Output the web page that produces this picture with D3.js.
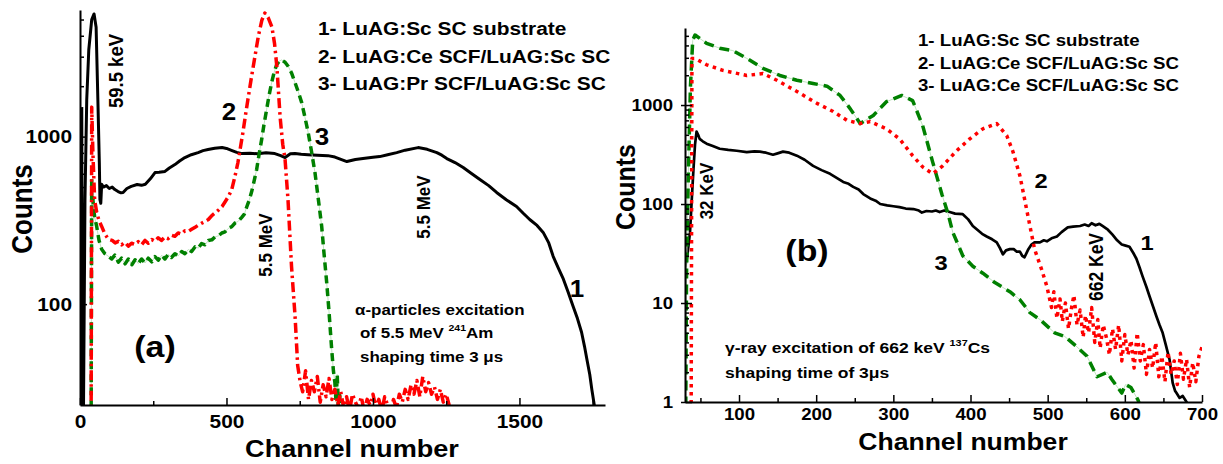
<!DOCTYPE html>
<html>
<head>
<meta charset="utf-8">
<script src="https://cdn.jsdelivr.net/npm/d3@7"></script>
<style>
  body { margin: 0; background: #fff; }
  svg text { font-family: "Liberation Sans", Arial, sans-serif; font-weight: bold; fill: #000; }
</style>
</head>
<body>
<svg id="chart" width="1223" height="464"></svg>
<script>
// ---- panel (a): alpha excitation, [channel, counts]
const alphaSubstrate = [[6,1500],[8,20],[12,25],[17,420],[23,1660],[30,3300],[40,5000],[48,5400],[55,4500],[61,1660],[66,700],[68,420],[71,400],[74,520],[80,500],[90,510],[100,490],[110,500],[119,483],[130,470],[140,462],[147,464],[160,490],[175,505],[195,518],[210,512],[223,520],[240,560],[256,610],[270,612],[290,620],[305,650],[324,681],[340,715],[358,750],[380,780],[403,803],[420,825],[437,837],[460,852],[485,860],[500,850],[519,826],[535,805],[553,792],[580,795],[607,790],[635,800],[665,792],[685,770],[700,750],[718,790],[734,792],[755,785],[778,780],[810,775],[846,770],[870,755],[911,710],[940,730],[966,740],[1000,752],[1023,760],[1050,780],[1081,803],[1110,830],[1154,860],[1185,840],[1218,803],[1235,775],[1252,740],[1280,700],[1308,654],[1335,605],[1365,555],[1395,510],[1422,464],[1455,420],[1490,383],[1512,350],[1535,320],[1560,295],[1581,268],[1600,232],[1615,193],[1632,165],[1650,141],[1666,118],[1683,97],[1698,82],[1712,68],[1722,56],[1730,47],[1740,38],[1747,31],[1757,24]];
const alphaCe = [[38,20],[40,1500],[44,800],[50,420],[57,353],[65,315],[74,291],[85,262],[97,244],[110,240],[120,232],[131,237],[142,226],[153,234],[165,222],[176,231],[188,227],[199,236],[210,226],[222,240],[233,231],[245,243],[256,237],[267,249],[278,240],[290,252],[301,246],[312,258],[324,254],[335,266],[347,262],[358,274],[370,272],[381,280],[393,288],[404,296],[415,304],[427,312],[438,320],[450,338],[461,350],[473,365],[485,383],[496,410],[507,440],[518,483],[529,580],[539,700],[548,870],[556,1056],[565,1350],[573,1660],[585,2250],[597,3000],[609,4000],[621,4970],[631,5470],[643,5100],[655,4520],[664,3600],[672,2610],[683,1315],[692,900],[700,730],[710,420],[722,168],[734,85],[743,43],[752,34],[760,30],[770,40],[780,27],[790,35],[800,30],[810,37],[820,26],[830,33],[840,28],[850,36],[860,27],[870,31],[880,25],[890,30],[900,24],[910,28],[920,23],[930,29],[940,26],[950,24],[960,28],[970,23],[980,27],[990,25],[1000,29],[1010,24],[1020,27],[1030,23],[1040,28],[1050,25],[1060,22],[1070,27],[1080,24],[1090,29],[1100,26],[1110,31],[1120,27],[1130,33],[1140,29],[1150,35],[1160,28],[1170,37],[1180,30],[1190,34],[1200,29],[1210,32],[1220,27],[1230,31],[1240,26],[1250,29],[1260,25],[1270,22]];
const alphaPr = [[38,20],[40,560],[44,420],[50,330],[57,291],[65,240],[74,213],[85,200],[97,193],[108,186],[119,196],[131,178],[142,188],[154,174],[165,186],[177,172],[188,184],[199,175],[210,186],[222,176],[233,188],[245,179],[256,192],[267,183],[279,196],[290,186],[301,198],[312,190],[324,200],[335,194],[347,206],[358,200],[370,212],[381,206],[393,220],[404,216],[415,230],[427,226],[438,240],[450,242],[461,252],[473,256],[484,266],[495,270],[507,284],[518,290],[530,306],[540,312],[552,330],[561,345],[569,380],[578,420],[586,470],[594,540],[603,636],[611,780],[620,960],[628,1180],[637,1450],[645,1750],[654,2095],[662,2400],[671,2680],[680,2820],[688,2870],[700,2780],[711,2620],[722,2400],[734,2100],[745,1850],[757,1590],[768,1300],[779,1056],[790,820],[802,610],[813,430],[825,291],[833,200],[842,135],[850,90],[859,54],[865,40],[870,34],[874,26],[878,38],[882,24],[886,30],[890,20]];

// ---- panel (b): gamma excitation, [channel, counts]
const gammaSubstrate = [[30,23],[33,30],[36.5,52],[39,120],[41,227],[43,400],[45,540],[47,500],[49,455],[53,430],[58,407],[66,385],[75,362],[86,352],[97,345],[110,335],[120,340],[127,338],[135,330],[144,315],[150,325],[157,338],[165,330],[175,308],[185,280],[196,243],[207,220],[218,202],[226,185],[235,167],[242,160],[248,149],[255,140],[261,126],[270,114],[277,108],[283,100],[292,97],[300,95],[308,93],[316,90],[326,89],[333,86],[337,82],[343,85],[350,84],[355,86],[360,83],[366,86],[373,83],[380,80],[390,79],[397,70],[403,60],[410,54],[415,50],[421,47],[428,44],[434,41],[438,36],[442,31],[446,34],[451,35],[456,35],[460,33],[464,33],[467,30],[470,29],[475,35],[479,39],[483,41],[490,41],[495,43],[499,42],[505,45],[512,47],[518,52],[526,58],[533,59],[542,60],[548,62],[553,60],[557,64],[562,61],[567,63],[571,60],[578,55],[584,49],[590,43],[596,39],[601,38],[606,37],[611,32],[615,28],[619,23],[623,18.6],[628,14.5],[632,11.7],[637,9],[641,7.3],[645,6],[649,5],[653,3.8],[658,2.67],[662,1.56],[665,1.3],[667,1.23],[671,1.1],[675,1.15],[680,1.0],[682,0.9]];
const gammaCe = [[38,0.8],[39,2960],[43,2960],[58,2550],[79,2240],[110,1990],[131,2080],[149,1780],[175,1370],[201,1040],[222,860],[240,700],[257,650],[270,680],[291,575],[308,455],[325,308],[338,237],[351,202],[364,243],[382,345],[399,455],[416,575],[434,650],[447,490],[455,338],[464,193],[470,113],[477,60],[483,35],[492,22],[499,14.7],[505,9],[508,13],[512,7],[516,11],[519,6.5],[523,10],[527,5.5],[531,9],[534,12],[538,6],[542,8.5],[546,4.5],[549,7.5],[553,5],[557,9],[561,4],[565,6.8],[568,3.5],[572,6],[576,4.5],[580,3],[584,5.5],[588,3.4],[592,6],[596,2.6],[600,4.8],[604,3],[608,4.2],[612,2.2],[616,5],[620,2.6],[624,3.8],[628,1.9],[632,3.4],[636,2.2],[640,4],[644,1.8],[648,2.9],[652,1.6],[656,3.2],[660,1.9],[664,2.6],[668,1.5],[672,3.1],[676,1.7],[680,2.7],[684,1.4],[688,2.5],[692,1.6],[696,2.9],[700,3.6]];
const gammaCe2 = [[31,0.9],[32,20],[34,150],[37,1500],[40,4500],[43,5100],[58,4200],[75,3750],[92,3550],[110,2960],[131,2350],[153,1990],[175,1780],[196,1650],[214,1550],[231,1250],[244,920],[257,650],[274,785],[291,1080],[311,1250],[325,1110],[338,620],[351,265],[363,125],[371,79],[377,52],[390,30],[403,23.5],[416,20],[431,16.2],[451,13],[464,10.8],[477,8],[490,6.8],[509,5],[522,4.6],[538,3.6],[551,2.9],[564,1.8],[577,2.0],[583,1.7],[596,1.23],[601,1.5],[608,1.4],[617,1.05],[620,0.9]];

// ---- ticks and labels
const alphaXTicks = [0, 500, 1000, 1500];
const alphaXMinor = [250, 750, 1250, 1750];
const alphaYTicks = [100, 1000];
const alphaYMinor = [30,40,50,60,70,80,90,200,300,400,500,600,700,800,900,2000,3000,4000,5000];
const gammaXTicks = [100, 200, 300, 400, 500, 600, 700];
const gammaXMinor = [50, 150, 250, 350, 450, 550, 650];
const gammaYTicks = [1, 10, 100, 1000];
const gammaYMinor = [2,3,4,5,6,7,8,9,20,30,40,50,60,70,80,90,200,300,400,500,600,700,800,900,2000,3000,4000,5000];
const alphaLegend = ["1- LuAG:Sc SC substrate", "2- LuAG:Ce SCF/LuAG:Sc SC", "3- LuAG:Pr SCF/LuAG:Sc SC"];
const gammaLegend = ["1- LuAG:Sc SC substrate", "2- LuAG:Ce SCF/LuAG:Sc SC", "3- LuAG:Ce SCF/LuAG:Sc SC"];

const svg = d3.select("#chart");
const SX = 1.13; // the source figure is stretched sideways a little

// text helper: parts is a string or a list of strings / {sup: "..."}
const addText = (g, x, y, parts, size, opts = {}) => {
    const rot = opts.rotate || 0;
    const t = g.append('text')
        .attr('transform', rot
            ? `translate(${x},${y}) rotate(${rot}) scale(1,${SX})`
            : `translate(${x},${y}) scale(${SX},1)`)
        .attr('font-size', size)
        .attr('text-anchor', opts.anchor || 'start');
    if (typeof parts === 'string') { t.text(parts); return t; }
    let raised = false;
    parts.forEach(p => {
        if (typeof p === 'string') {
            t.append('tspan').attr('dy', raised ? size * 0.45 : 0).text(p);
            raised = false;
        } else {
            t.append('tspan').attr('dy', -size * 0.45).attr('font-size', size * 0.62).text(p.sup);
            raised = true;
        }
    });
    return t;
};

const drawPanel = (cfg) => {
    const { x, y, id } = cfg;
    const g = svg.append('g');
    const [x0, x1] = x.range();
    const [y0, y1] = y.range();

    g.append('clipPath').attr('id', id)
        .append('rect').attr('x', x0).attr('y', y1 - 2).attr('width', x1 - x0).attr('height', y0 - y1 + 2);

    const line = d3.line().x(d => x(d[0])).y(d => y(d[1]));
    const plot = g.append('g').attr('clip-path', `url(#${id})`);
    cfg.series.forEach(s => {
        if (s.under) {
            plot.append('path').datum(s.data).attr('d', line)
                .attr('fill', 'none').attr('stroke', s.under).attr('stroke-width', 0.9);
        }
        plot.append('path').datum(s.data).attr('d', line)
            .attr('fill', 'none')
            .attr('stroke', s.color)
            .attr('stroke-width', s.width)
            .attr('stroke-dasharray', s.dash || null)
            .attr('stroke-linejoin', 'round');
    });

    // x axis, ticks pointing inside
    const xAxis = g.append('g').attr('transform', `translate(0,${y0})`)
        .call(d3.axisBottom(x).tickValues(cfg.xTicks).tickSize(-7).tickSizeOuter(0)
            .tickPadding(cfg.xPad).tickFormat(d3.format('d')));
    g.append('g').attr('transform', `translate(0,${y0})`)
        .call(d3.axisBottom(x).tickValues(cfg.xMinor).tickSize(-4).tickFormat(''))
        .call(a => a.select('.domain').remove());

    const yAxis = g.append('g').attr('transform', `translate(${x0},0)`)
        .call(d3.axisLeft(y).tickValues(cfg.yTicks).tickSize(-7).tickSizeOuter(0)
            .tickPadding(cfg.yPad).tickFormat(d3.format('d')));
    g.append('g').attr('transform', `translate(${x0},0)`)
        .call(d3.axisLeft(y).tickValues(cfg.yMinor).tickSize(-4).tickFormat(''))
        .call(a => a.select('.domain').remove());
    if (cfg.crossTicks) {
        g.append('g').attr('transform', `translate(${x0},0)`)
            .call(d3.axisLeft(y).tickValues(cfg.yTicks).tickSize(4).tickFormat(''))
            .call(a => a.select('.domain').remove());
    }

    g.selectAll('.domain').attr('stroke', '#000').attr('stroke-width', 2);
    g.selectAll('.tick line').attr('stroke', '#000').attr('stroke-width', 1.5);

    xAxis.selectAll('text').attr('font-size', cfg.tickFont).attr('fill', '#000')
        .attr('transform', `scale(${SX},1)`);
    yAxis.selectAll('text').attr('font-size', cfg.tickFont).attr('fill', '#000')
        .attr('x', -cfg.yPad / SX).attr('transform', `scale(${SX},1)`);
    g.selectAll('.tick text').style('font-family', '"Liberation Sans", Arial, sans-serif').style('font-weight', 'bold');

    return g;
};

// ---------- panel (a)
const xA = d3.scaleLinear().domain([0, 1792]).range([80, 605]);
const yA = d3.scaleLog().domain([25, 5700]).range([405, 10]);
const gA = drawPanel({
    id: 'clipA', x: xA, y: yA,
    xTicks: alphaXTicks, xMinor: alphaXMinor, yTicks: alphaYTicks, yMinor: alphaYMinor,
    xPad: 10, yPad: 8, tickFont: 18.5,
    series: [
        { data: alphaSubstrate, color: '#000', width: 3 },
        { data: alphaPr, color: '#008000', width: 3.5, dash: '8,5', under: '#b8e0b8' },
        { data: alphaCe, color: '#ff0000', width: 3.5, dash: '10,4,2.5,4' }
    ]
});

alphaLegend.forEach((s, i) => addText(gA, 318, 35 + i * 27.5, s, 18.5));
addText(gA, 32, 209, 'Counts', 26, { rotate: -90, anchor: 'middle' });
addText(gA, 352, 457, 'Channel number', 24, { anchor: 'middle' });
addText(gA, 123, 71, '59.5 keV', 18.5, { rotate: -90, anchor: 'middle' });
addText(gA, 272, 245, '5.5 MeV', 17, { rotate: -90, anchor: 'middle' });
addText(gA, 430, 207, '5.5 MeV', 17, { rotate: -90, anchor: 'middle' });
addText(gA, 229, 120, '2', 23, { anchor: 'middle' });
addText(gA, 322, 145, '3', 23, { anchor: 'middle' });
addText(gA, 577, 297, '1', 23, { anchor: 'middle' });
addText(gA, 155, 357, '(a)', 30, { anchor: 'middle' });
addText(gA, 355, 315, 'α-particles excitation', 15);
addText(gA, 360, 338, ['of 5.5 MeV ', { sup: '241' }, 'Am'], 15);
addText(gA, 360, 362, 'shaping time 3 μs', 15);

// ---------- panel (b)
const xB = d3.scaleLinear().domain([30, 700]).range([685, 1202]);
const yB = d3.scaleLog().domain([1, 6000]).range([402, 28]);
const gB = drawPanel({
    id: 'clipB', x: xB, y: yB,
    xTicks: gammaXTicks, xMinor: gammaXMinor, yTicks: gammaYTicks, yMinor: gammaYMinor,
    xPad: 6, yPad: 12, tickFont: 16.5, crossTicks: true,
    series: [
        { data: gammaSubstrate, color: '#000', width: 2.7 },
        { data: gammaCe2, color: '#008000', width: 3.5, dash: '10,6', under: '#b8e0b8' },
        { data: gammaCe, color: '#ff0000', width: 3.5, dash: '3.5,4.5' }
    ]
});

gammaLegend.forEach((s, i) => addText(gB, 918, 46 + i * 22.5, s, 16.5));
addText(gB, 635, 187, 'Counts', 25, { rotate: -90, anchor: 'middle' });
addText(gB, 963, 450, 'Channel number', 23.5, { anchor: 'middle' });
addText(gB, 713, 191, '32 KeV', 17, { rotate: -90, anchor: 'middle' });
addText(gB, 1103, 267, '662 KeV', 17.5, { rotate: -90, anchor: 'middle' });
addText(gB, 1041, 188, '2', 21, { anchor: 'middle' });
addText(gB, 941, 270, '3', 21, { anchor: 'middle' });
addText(gB, 1147, 250, '1', 21, { anchor: 'middle' });
addText(gB, 807, 261, '(b)', 30, { anchor: 'middle' });
addText(gB, 725, 353, ['γ-ray excitation of 662 keV ', { sup: '137' }, 'Cs'], 15.5);
addText(gB, 725, 378, 'shaping time of 3μs', 15.5);
</script>
</body>
</html>
